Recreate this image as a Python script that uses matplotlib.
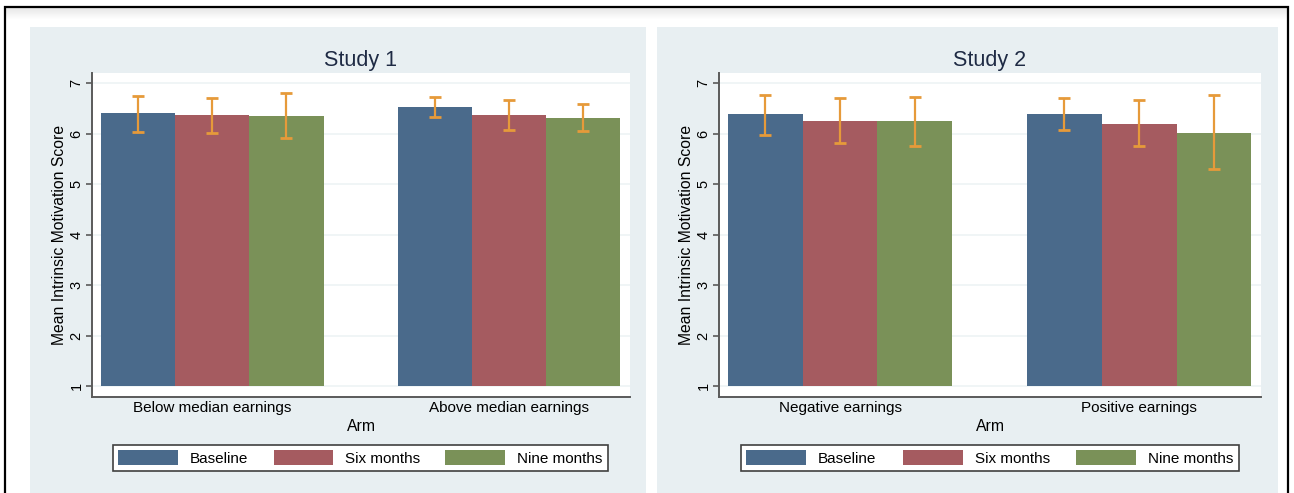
import matplotlib
matplotlib.use("Agg")
import matplotlib.pyplot as plt
from matplotlib.patches import Rectangle, Patch
import numpy as np

plt.rcParams["font.family"] = ["Liberation Sans", "DejaVu Sans"]

# ---- data -------------------------------------------------------------
series = ["Baseline", "Six months", "Nine months"]

study1_groups = ["Below median earnings", "Above median earnings"]
study1_means = [[6.40, 6.52], [6.37, 6.37], [6.35, 6.30]]
study1_low = [[6.03, 6.33], [6.01, 6.08], [5.92, 6.06]]
study1_high = [[6.75, 6.73], [6.71, 6.67], [6.80, 6.58]]

study2_groups = ["Negative earnings", "Positive earnings"]
study2_means = [[6.39, 6.39], [6.25, 6.20], [6.25, 6.02]]
study2_low = [[5.98, 6.08], [5.81, 5.76], [5.76, 5.31]]
study2_high = [[6.76, 6.70], [6.70, 6.67], [6.73, 6.77]]

titles = ["Study 1", "Study 2"]
y_ticks = [1, 2, 3, 4, 5, 6, 7]

# ---- style ------------------------------------------------------------
bar_colors = ["#4a6a8b", "#a55b60", "#7a9158"]
err_color = "#e69a3a"
panel_bg = "#e8eff2"
axis_gray = "#5a5a5a"
text_dark = "#1e2a44"

W, H = 1294, 493
fig = plt.figure(figsize=(W / 100, H / 100), dpi=100)
fig.patch.set_facecolor("white")


def fx(px):
    return px / W


def fy(py):
    return 1 - py / H


# outer frame with a faint shadow under the top edge
for i, a in enumerate(np.linspace(0.18, 0.0, 12)):
    fig.patches.append(Rectangle((fx(6), fy(9 + i)), fx(1282), 1 / H,
                                 transform=fig.transFigure,
                                 facecolor="black", alpha=a * 0.5,
                                 edgecolor="none", zorder=-2))
fig.patches.append(Rectangle((fx(5), fy(H + 5)), fx(1283), fy(7) - fy(H + 5),
                             transform=fig.transFigure, facecolor="none",
                             edgecolor="black", linewidth=1.6, zorder=5))

panels = [
    dict(bg=(30, 646), ax=(92, 630), legend=(113, 608),
         groups=study1_groups, means=study1_means, low=study1_low,
         high=study1_high),
    dict(bg=(657, 1278), ax=(719, 1261), legend=(741, 1239),
         groups=study2_groups, means=study2_means, low=study2_low,
         high=study2_high),
]

for p, title in zip(panels, titles):
    bx0, bx1 = p["bg"]
    fig.patches.append(Rectangle((fx(bx0), 0), fx(bx1 - bx0), fy(27),
                                 transform=fig.transFigure,
                                 facecolor=panel_bg, edgecolor="none",
                                 zorder=-1))

    ax0, ax1 = p["ax"]
    ax = fig.add_axes([fx(ax0), fy(397), fx(ax1 - ax0), fy(73) - fy(397)],
                      zorder=1)
    ax.set_facecolor("white")

    n_groups = len(p["groups"])
    n_series = len(series)
    for s in range(n_series):
        xs = np.arange(n_groups) * (n_series + 1) + s
        means = np.array(p["means"][s])
        low = np.array(p["low"][s])
        high = np.array(p["high"][s])
        ax.bar(xs, means - 1, bottom=1, width=1.0, color=bar_colors[s],
               edgecolor="none", zorder=2)
        ax.errorbar(xs, means, yerr=[means - low, high - means],
                    fmt="none", ecolor=err_color, elinewidth=1.6,
                    capsize=4, capthick=2.0, zorder=3)

    centers = np.arange(n_groups) * (n_series + 1) + (n_series - 1) / 2
    ax.set_xlim(-0.62, (n_groups - 1) * (n_series + 1) + n_series - 1 + 0.63)
    ax.set_ylim(0.79, 7.2)
    ax.set_yticks(y_ticks)
    ax.set_yticklabels([str(t) for t in y_ticks], rotation=90,
                       va="center", fontsize=10.5, color="black")
    ax.set_xticks(centers)
    ax.set_xticklabels(p["groups"], fontsize=11, color="black")
    ax.tick_params(axis="x", length=0, pad=3)
    ax.tick_params(axis="y", length=4, width=1.2, color=axis_gray, pad=2)
    ax.grid(axis="y", color="#edf3f5", linewidth=1.2, zorder=0)
    ax.set_axisbelow(True)
    for side in ("top", "right"):
        ax.spines[side].set_visible(False)
    for side in ("left", "bottom"):
        ax.spines[side].set_color(axis_gray)
        ax.spines[side].set_linewidth(1.4)

    ax.set_ylabel("Mean Intrinsic Motivation Score", fontsize=11.3,
                  color="black", labelpad=2)
    ax.set_xlabel("Arm", fontsize=11.3, color="black", labelpad=3)
    ax.set_title(title, fontsize=15.5, color=text_dark, pad=5)

    lx0, lx1 = p["legend"]
    handles = [Patch(facecolor=c, edgecolor="none") for c in bar_colors]
    leg = fig.legend(handles, series, ncol=3, mode="expand",
                     bbox_to_anchor=(fx(lx0), fy(473), fx(lx1 - lx0),
                                     fy(443) - fy(473)),
                     loc="center", fontsize=11, frameon=True,
                     fancybox=False, framealpha=1, borderaxespad=0,
                     handlelength=3.9, handleheight=1.15, handletextpad=0.8,
                     columnspacing=2.0, borderpad=0.35)
    leg.get_frame().set_edgecolor("#404040")
    leg.get_frame().set_linewidth(1.2)
    leg.get_frame().set_facecolor("white")

fig.savefig("out.png", dpi=100, facecolor="white")
